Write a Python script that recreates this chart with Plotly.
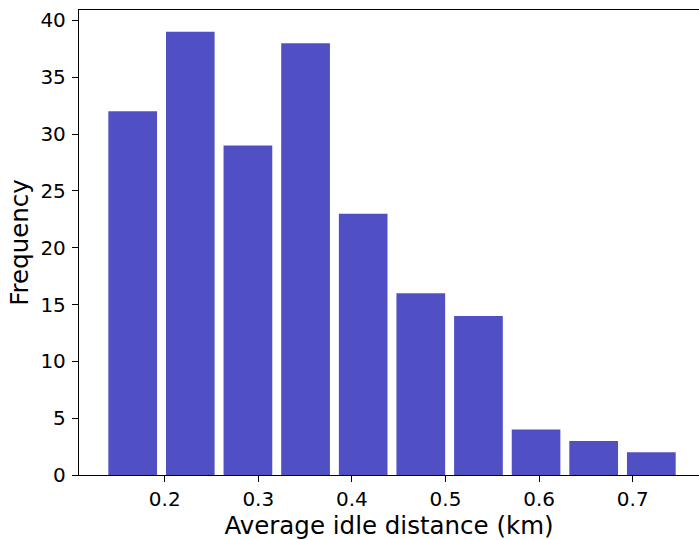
import plotly.graph_objects as go

# Histogram data
bin_edges = [0.1350, 0.1966, 0.2581, 0.3197, 0.3813, 0.4428, 0.5044, 0.5660, 0.6275, 0.6891, 0.7507]
counts = [32, 39, 29, 38, 23, 16, 14, 4, 3, 2]
x_ticks = [0.2, 0.3, 0.4, 0.5, 0.6, 0.7]
y_ticks = [0, 5, 10, 15, 20, 25, 30, 35, 40]

rwidth = 0.845
centers = [(a + b) / 2 for a, b in zip(bin_edges[:-1], bin_edges[1:])]
widths = [(b - a) * rwidth for a, b in zip(bin_edges[:-1], bin_edges[1:])]

fig = go.Figure(go.Bar(
    x=centers, y=counts, width=widths,
    marker=dict(color="rgb(80,80,196)", line=dict(width=0)),
    hoverinfo="x+y",
))

font = "DejaVu Sans, sans-serif"
fig.update_layout(
    width=699, height=540,
    margin=dict(l=79, r=0, t=10, b=65),
    paper_bgcolor="white", plot_bgcolor="white",
    showlegend=False,
    font=dict(family=font, color="black", size=20),
    xaxis=dict(
        range=[0.2 - (164.7 - 79) / 936, 0.2 + (699 - 164.7) / 936],
        tickvals=x_ticks, ticktext=[f"{v:.1f}" for v in x_ticks],
        ticks="outside", ticklen=6, tickwidth=1.3, tickcolor="black",
        showline=True, linecolor="black", linewidth=1.3, mirror=True,
        showgrid=False, zeroline=False,
        tickfont=dict(size=20),
        title=dict(text="Average idle distance (km)", font=dict(size=24.5), standoff=6),
    ),
    yaxis=dict(
        range=[0, 40.92],
        tickvals=y_ticks,
        ticks="outside", ticklen=6, tickwidth=1.3, tickcolor="black",
        showline=True, linecolor="black", linewidth=1.3, mirror=False,
        showgrid=False, zeroline=False,
        tickfont=dict(size=20), ticklabelstandoff=2,
        title=dict(text="Frequency", font=dict(size=24.5), standoff=4),
    ),
)

fig.write_html("out.html")
